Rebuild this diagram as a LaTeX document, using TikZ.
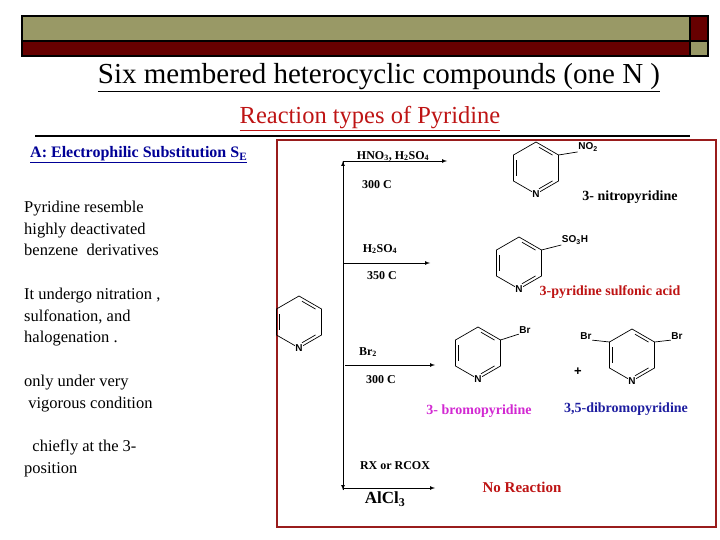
\documentclass[tikz,border=0pt]{standalone}
\usepackage{fontspec}
\setmainfont{Liberation Serif}
\setsansfont{Liberation Sans}
\usetikzlibrary{positioning}
\definecolor{olive}{RGB}{153,153,102}
\definecolor{maroon}{RGB}{102,0,0}
\definecolor{boxred}{RGB}{153,28,28}
\definecolor{rxred}{RGB}{190,20,20}
\definecolor{bromo}{RGB}{210,40,210}
\definecolor{dibromo}{RGB}{30,30,160}
\definecolor{linkblue}{RGB}{0,0,150}
% one pyridine ring: name, x, y
\newcommand\pyring[3]{%
  \begin{scope}[shift={(#2,#3)}]
    \draw[bond] (90:26) -- (150:26) -- (210:26) -- (270:26) -- (330:26) -- (30:26) -- cycle;
    \draw[bond] (158:21) -- (202:21);
    \draw[bond] (-82:21) -- (-38:21);
    \draw[bond] (38:21) -- (82:21);
    \node[atom, fill=white] (#1-n) at (90:26) {N};
    \coordinate (#1-ur) at (-30:26);
    \coordinate (#1-ul) at (210:26);
  \end{scope}}
\begin{document}
\begin{tikzpicture}[x=1pt, y=-1pt,
    bond/.style={line width=0.7pt},
    atom/.style={font=\sffamily\bfseries\fontsize{10}{11}\selectfont, inner sep=0.5pt},
    cond/.style={font=\bfseries\fontsize{12}{14}\selectfont},
    prod/.style={font=\bfseries\fontsize{14}{16}\selectfont},
    body/.style={font=\fontsize{16.5}{21.5}\selectfont, align=left, anchor=north west, inner sep=0pt},
    rx/.style={-latex, line width=0.7pt},
  ]
  \useasboundingbox (0,0) rectangle (720,540);
  % top bar
  \draw[line width=1.2pt, fill=olive] (22,16) rectangle (690,41);
  \draw[line width=1.2pt, fill=maroon] (690,16) rectangle (708,41);
  \draw[line width=1.2pt, fill=maroon] (22,41) rectangle (690,56);
  \draw[line width=1.2pt, fill=olive] (690,41) rectangle (708,56);
  % headings
  \node (title) at (379,78) {\fontsize{29}{32}\selectfont\underline{Six membered heterocyclic compounds (one N )}};
  \node[text=rxred] (types) at (370,119) {\fontsize{24.5}{28}\selectfont\underline{Reaction types of Pyridine}};
  \draw[line width=1.2pt] (35,136) -- (690,136);
  % left text
  \node[text=linkblue, font=\bfseries\fontsize{16}{19}\selectfont, anchor=west, inner sep=0pt] (se) at (30,155) {\underline{A: Electrophilic Substitution S\textsubscript{E}}};
  \node[body] (t1) at (24,201) {Pyridine resemble\\highly deactivated\\benzene\ \ derivatives};
  \node[body] (t2) at (24,288) {It undergo nitration ,\\sulfonation, and\\halogenation .};
  \node[body] (t3) at (24,375) {only under very\\\ vigorous condition};
  \node[body] (t4) at (24,440) {\ \ chiefly at the 3-\\position};
  % scheme box
  \draw[boxred, line width=1.5pt, fill=white] (277,140) rectangle (716,527);
  % rings
  \pyring{start}{299}{322}
  \pyring{nitro}{536}{168}
  \pyring{sulfo}{519}{263}
  \pyring{bromo}{478}{353}
  \pyring{dibromo}{632}{355}
  \node[atom] (no2) at (588,147) {NO\textsubscript{2}};
  \node[atom] (so3h) at (575,240) {SO\textsubscript{3}H};
  \node[atom] (br) at (525,330) {Br};
  \node[atom] (brl) at (586,336) {Br};
  \node[atom] (brr) at (677,336) {Br};
  \draw[bond] (nitro-ur) -- (no2.south west);
  \draw[bond] (sulfo-ur) -- (so3h.south west);
  \draw[bond] (bromo-ur) -- (br.south west);
  \draw[bond] (dibromo-ul) -- (brl.south east);
  \draw[bond] (dibromo-ur) -- (brr.south west);
  \node[font=\sffamily\bfseries\fontsize{13}{15}\selectfont] (plus) at (578,372) {+};
  % arrows
  \coordinate (top) at (343,161);
  \coordinate (bot) at (343,490);
  \draw[rx] (343,490) -- (top);
  \draw[rx] (343,161) -- (bot);
  \coordinate (e1) at (447,161);
  \coordinate (e2) at (430,263);
  \coordinate (e3) at (435,365);
  \coordinate (e4) at (435,488);
  \draw[rx] (top) -- (e1);
  \draw[rx] (343,263) -- (e2);
  \draw[rx] (345,365) -- (e3);
  \draw[rx] (343,488) -- (e4);
  % conditions
  \node[cond] (c1) at (393,156) {HNO\textsubscript{3}, H\textsubscript{2}SO\textsubscript{4}};
  \node[cond] (c2) at (377,185) {300 C};
  \node[cond] (c3) at (380,249) {H\textsubscript{2}SO\textsubscript{4}};
  \node[cond] (c4) at (382,276) {350 C};
  \node[cond] (c5) at (368,352) {Br\textsubscript{2}};
  \node[cond] (c6) at (381,380) {300 C};
  \node[cond] (c7) at (395,466) {RX or RCOX};
  \node[font=\bfseries\fontsize{17}{19}\selectfont] (c8) at (385,499) {AlCl\textsubscript{3}};
  % products
  \node[prod] (p1) at (630,197) {3- nitropyridine};
  \node[prod, text=rxred] (p2) at (610,292) {3-pyridine sulfonic acid};
  \node[prod, text=bromo] (p3) at (479,411) {3- bromopyridine};
  \node[prod, text=dibromo] (p4) at (626,409) {3,5-dibromopyridine};
  \node[font=\bfseries\fontsize{15}{17}\selectfont, text=rxred] (p5) at (522,487) {No Reaction};
\end{tikzpicture}
\end{document}
